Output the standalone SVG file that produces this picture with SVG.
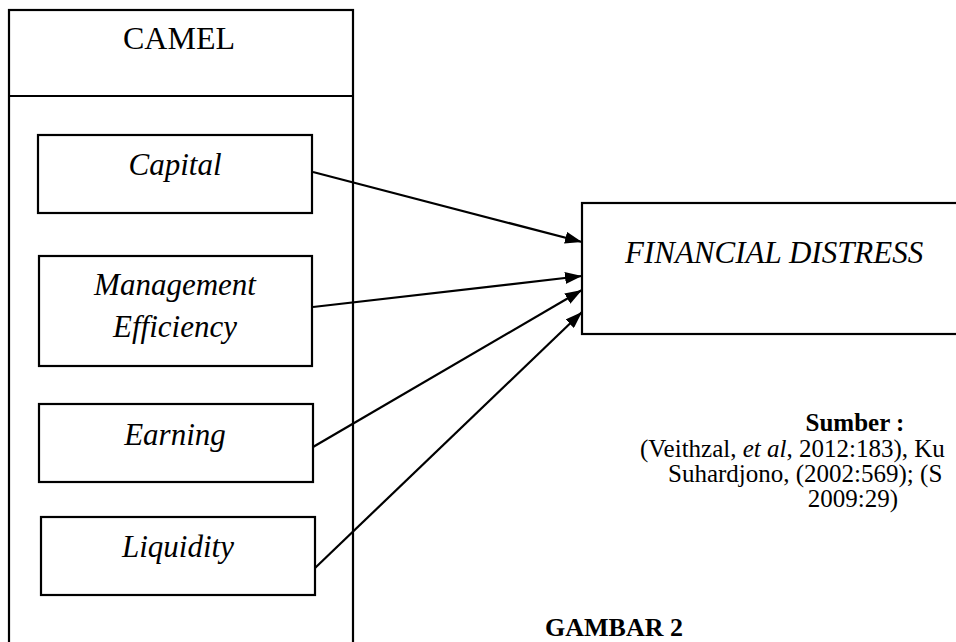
<svg xmlns="http://www.w3.org/2000/svg" width="956" height="642" viewBox="0 0 956 642">
<defs>
<style>
.box{fill:#fff;stroke:#000;stroke-width:2.2}
.lbl{font-size:31px;font-style:italic;text-anchor:middle}
.src{font-size:25px}
.conn{stroke:#000;stroke-width:2.2;fill:none;marker-end:url(#ah)}
</style>
<marker id="ah" viewBox="0 0 17 12" refX="17" refY="6" markerWidth="17" markerHeight="12" markerUnits="userSpaceOnUse" orient="auto">
<path d="M0,0 L17,6 L0,12 Z" fill="#000"/>
</marker>
</defs>
<rect width="956" height="642" fill="#fff"/>
<g font-family="'Liberation Serif', 'Times New Roman', Times, serif" fill="#000">
<g id="camel">
<rect class="box" x="9" y="10" width="344" height="660"/>
<line x1="9" y1="96" x2="353" y2="96" stroke="#000" stroke-width="2.2"/>
<text x="179" y="49" font-size="32" text-anchor="middle">CAMEL</text>
</g>
<g id="capital">
<rect class="box" x="38" y="135" width="274" height="78"/>
<text class="lbl" x="175" y="175">Capital</text>
</g>
<g id="management">
<rect class="box" x="39" y="256" width="273" height="110"/>
<text class="lbl" x="175" y="295">Management</text>
<text class="lbl" x="175" y="337">Efficiency</text>
</g>
<g id="earning">
<rect class="box" x="39" y="404" width="274" height="78"/>
<text class="lbl" x="175" y="445">Earning</text>
</g>
<g id="liquidity">
<rect class="box" x="41" y="517" width="274" height="78"/>
<text class="lbl" x="178" y="557">Liquidity</text>
</g>
<g id="financial-distress">
<rect class="box" x="582" y="203" width="400" height="131"/>
<text x="625" y="263" font-size="31" font-style="italic">FINANCIAL DISTRESS</text>
</g>
<g id="connectors">
<line class="conn" x1="313" y1="172" x2="582" y2="242"/>
<line class="conn" x1="313" y1="307" x2="582" y2="276"/>
<line class="conn" x1="313" y1="447" x2="582" y2="290"/>
<line class="conn" x1="315" y1="568" x2="582" y2="312"/>
</g>
<g id="source">
<text class="src" x="855" y="431" font-weight="bold" text-anchor="middle">Sumber :</text>
<text class="src" x="640" y="457">(Veithzal, <tspan font-style="italic">et al</tspan>, 2012:183), Ku</text>
<text class="src" x="668" y="482">Suhardjono, (2002:569); (S</text>
<text class="src" x="853" y="507" text-anchor="middle">2009:29)</text>
</g>
<g id="caption">
<text x="545" y="636" font-size="26" font-weight="bold">GAMBAR 2</text>
</g>
</g>
</svg>
